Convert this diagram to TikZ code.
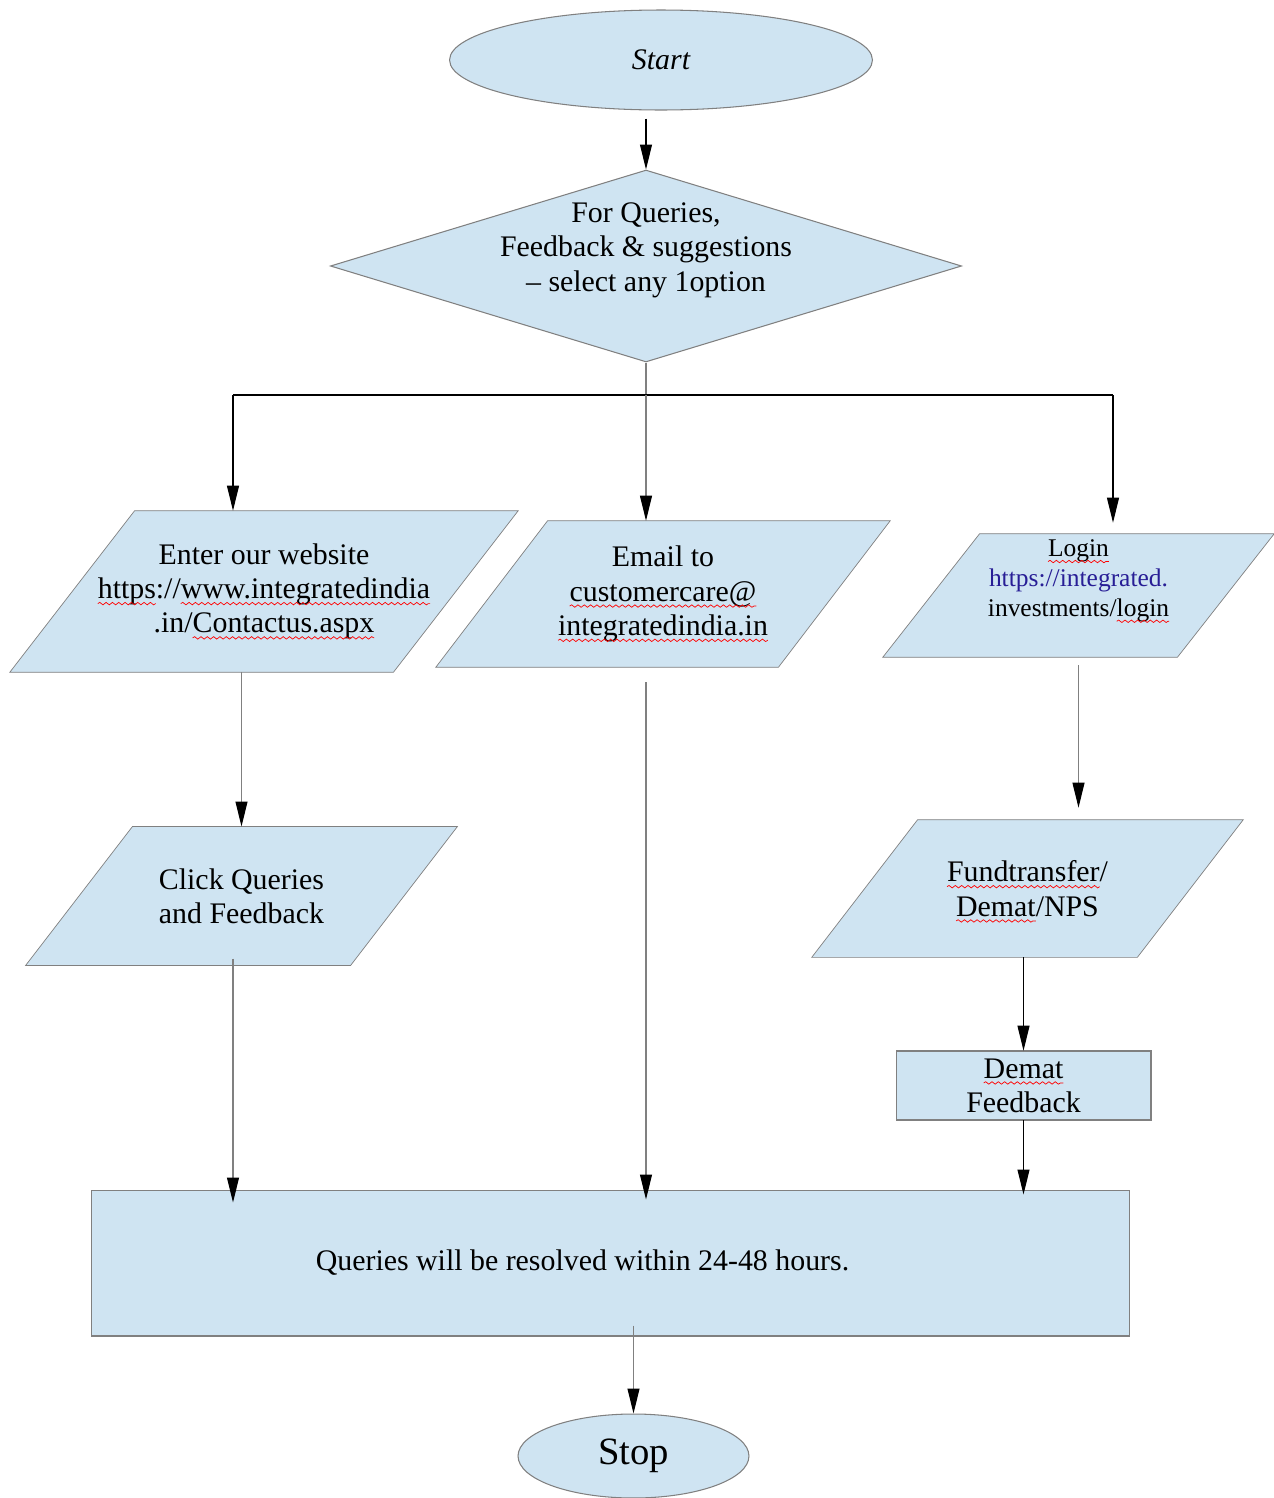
\documentclass[tikz,border=0pt]{standalone}
\usepackage{fontspec}
\setmainfont{Liberation Serif}
\usetikzlibrary{shapes.geometric,arrows.meta,decorations.pathmorphing,backgrounds}
\definecolor{boxfill}{RGB}{207,228,242}
\definecolor{linkblue}{RGB}{40,30,150}
\newsavebox{\wavebox}
\newcommand{\redwave}[1]{\sbox{\wavebox}{#1}\usebox{\wavebox}\tikz[overlay,baseline=0pt]\draw[red,line width=0.4pt,decorate,decoration={snake,amplitude=0.7pt,segment length=3.6pt}] (-\wd\wavebox,-2.8pt) -- (0pt,-2.8pt);}

\begin{document}
\begin{tikzpicture}[x=0.02cm,y=-0.02cm,line width=0.6pt,
	box/.style={draw=gray,fill=boxfill,inner sep=0pt,align=center,font=\fontsize{17}{19.5}\selectfont},
	para/.style={box,draw=none,fill=none},
	arr/.style={-{Triangle[width=0.24cm,length=0.5cm,color=black]}},
	garr/.style={arr,draw=gray}]
				\useasboundingbox (0,0) rectangle (1274,1498);
				\node[box,ellipse,minimum width=8.46cm,minimum height=2cm] (start) at (661,60) {\itshape Start};
				\node[box,diamond,aspect=3.3,minimum width=12.62cm,minimum height=3.84cm] (query) at (646,266) {\raisebox{0.32cm}[\height][\depth]{\begin{tabular}{@{}c@{}}For Queries,\\Feedback \& suggestions\\– select any 1option\end{tabular}}};
				\node[para,minimum width=7.66cm,minimum height=3.22cm] (web) at (264,591.5) {Enter our website\\\redwave{https}://\redwave{www.integratedindia}\\.in/\redwave{Contactus.aspx}};
				\node[para,minimum width=6.84cm,minimum height=2.92cm] (mail) at (663,594) {Email to\\\redwave{customercare@}\\\redwave{integratedindia.in}};
				\node[para,minimum width=5.88cm,minimum height=2.46cm,font=\fontsize{14.5}{17}\selectfont] (login) at (1078.5,595.5) {\raisebox{0.3cm}[\height][\depth]{\begin{tabular}{@{}c@{}}\redwave{Login}\\\textcolor{linkblue}{https://integrated.}\\investments/\redwave{login}\end{tabular}}};
				\node[para,minimum width=6.48cm,minimum height=2.76cm] (click) at (241.5,896) {Click Queries\\and Feedback};
				\node[para,minimum width=6.5cm,minimum height=2.74cm] (fund) at (1027.5,888.5) {\redwave{Fundtransfer}/\\\redwave{Demat}/NPS};
				\node[box,minimum width=5.1cm,minimum height=1.38cm] (demat) at (1023.5,1085.5) {\redwave{Demat}\\Feedback};
				\node[box,minimum width=20.76cm,minimum height=2.92cm] (result) at (610.5,1263) {Queries will be resolved within 24-48 hours.\hspace*{1.12cm}};
				\node[box,ellipse,minimum width=4.62cm,minimum height=1.68cm,font=\fontsize{22}{26}\selectfont] (stop) at (633.5,1456) {Stop};
				\begin{scope}[on background layer]
					\foreach \n/\s in {web/125,mail/112,login/97,click/107,fund/106}
						\filldraw[draw=gray,fill=boxfill] ([xshift=\s*0.01cm]\n.north west) -- ([xshift=\s*0.01cm]\n.north east) -- ([xshift=-\s*0.01cm]\n.south east) -- ([xshift=-\s*0.01cm]\n.south west) -- cycle;
				\end{scope}
				\coordinate (lsplit) at (233,395);
				\coordinate (split) at (query.south |- lsplit);
				\coordinate (rsplit) at (1113,395);
				\draw[arr,shorten <=0.16cm] (query.north |- start.south) -- (query.north);
				\draw[gray] (query.south) -- (split);
				\draw (lsplit) -- (rsplit);
				\draw[arr] (lsplit) -- (lsplit |- web.north);
				\draw[garr] (split) -- (split |- mail.north);
				\draw[arr,shorten >=0.22cm] (rsplit) -- (rsplit |- login.north);
				\draw[garr] (web.south -| click.center) -- (click.north -| click.center);
				\draw[garr,shorten <=-0.14cm,shorten >=-0.26cm] (click.south -| lsplit) -- (result.north -| lsplit);
				\draw[garr,shorten <=0.3cm,shorten >=-0.2cm] (mail.south -| split) -- (result.north -| split);
				\draw[garr,shorten <=0.16cm,shorten >=0.24cm] (login.south -| login.center) -- (fund.north -| login.center);
				\draw[arr] (fund.south -| demat.center) -- (demat.north);
				\draw[arr,shorten >=-0.1cm] (demat.south) -- (demat.south |- result.north);
				\draw[garr,shorten <=-0.22cm] (result.south -| stop.north) -- (stop.north);
\end{tikzpicture}
\end{document}
